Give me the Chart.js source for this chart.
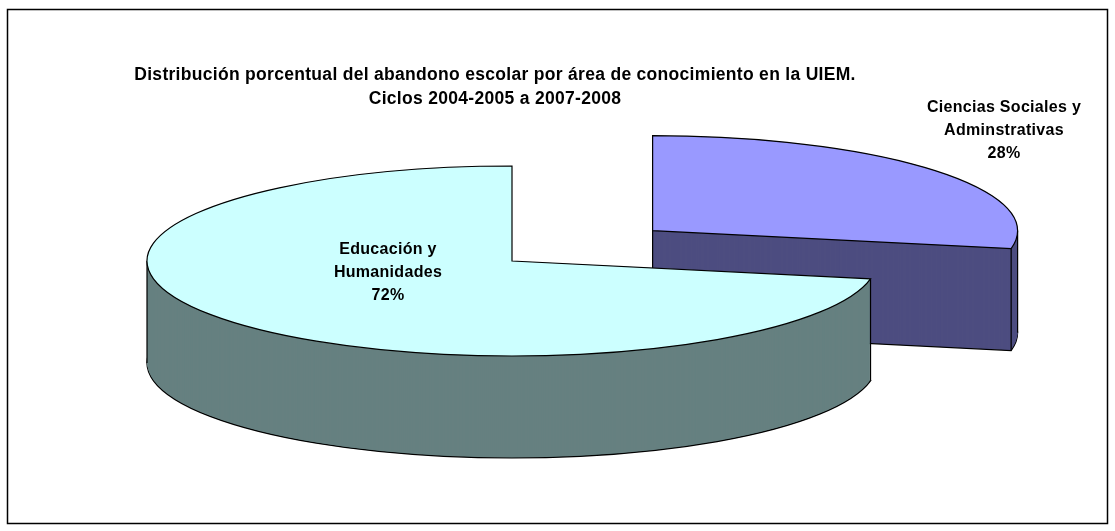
<!DOCTYPE html>
<html>
<head>
<meta charset="utf-8">
<script src="https://cdn.jsdelivr.net/npm/chart.js@4.4.1/dist/chart.umd.min.js"></script>
<style>
  html, body { margin: 0; padding: 0; background: #fff; }
  canvas { display: block; }
</style>
</head>
<body>
<canvas id="pie3d-canvas" width="1115" height="531"></canvas>
<script>
const titleLines = ['Distribución porcentual del abandono escolar por área de conocimiento en la UIEM.', 'Ciclos 2004-2005 a 2007-2008'];
const areas = ['Ciencias Sociales y Adminstrativas', 'Educación y Humanidades'];
const areaLabelLines = [['Ciencias Sociales y', 'Adminstrativas'], ['Educación y', 'Humanidades']];
const dropoutShare = [28, 72];
const topColors = ['#9999FF', '#CCFFFF'];
const sideColors = ['#4D4D80', '#668080'];

const DEPTH = 102;          // thickness of the pie in px
const EXPLODE = [0.5, 0];   // how far each slice is pulled out, part of radius
const TITLE_AT = [495, 75];
const LABEL_AT = [[1004, 131], [388, 273]];
const FONT = '"Liberation Sans", Arial, sans-serif';

function inArc(a, s, e) {
    while (a < s) a += 2 * Math.PI;
    while (a > s + 2 * Math.PI) a -= 2 * Math.PI;
    return a <= e;
}

const pie3d = {
    id: 'pie3d',
    beforeDraw(chart) {
        const ctx = chart.ctx;
        ctx.save();
        ctx.strokeStyle = '#000';
        ctx.lineWidth = 1.5;
        ctx.strokeRect(7.5, 9.5, 1100, 514);
        ctx.restore();
    },
    beforeDatasetsDraw(chart) {
        const ctx = chart.ctx;
        const area = chart.chartArea;
        const meta = chart.getDatasetMeta(0);

        // back slice first, front slice last
        meta.data.forEach((arc, i) => {
            const {x, y, startAngle, endAngle, outerRadius: r} =
                arc.getProps(['x', 'y', 'startAngle', 'endAngle', 'outerRadius'], true);
            const sx = (area.width / 2) / r;
            const sy = (area.height / 2) / r;
            const mid = (startAngle + endAngle) / 2;
            const ox = Math.cos(mid) * EXPLODE[i] * r;
            const oy = Math.sin(mid) * EXPLODE[i] * r;

            const project = (dy) => {
                ctx.translate(x, y + dy);
                ctx.scale(sx, sy);
                ctx.translate(-x + ox, -y + oy);
            };
            const tracePath = (dy) => {
                ctx.save();
                project(dy);
                ctx.beginPath();
                ctx.moveTo(x, y);
                ctx.arc(x, y, r, startAngle, endAngle);
                ctx.closePath();
                ctx.restore();
            };
            const pt = (a) => [x + (Math.cos(a) * r + ox) * sx, y + (Math.sin(a) * r + oy) * sy];

            ctx.save();
            ctx.lineWidth = 1.2;
            ctx.strokeStyle = '#000';
            ctx.fillStyle = sideColors[i];

            // side wall: bottom outline, then stacked layers
            tracePath(DEPTH);
            ctx.fill();
            ctx.stroke();
            for (let dy = DEPTH - 1; dy >= 0; dy--) {
                tracePath(dy);
                ctx.fill();
            }

            // vertical edges that can be seen
            const eps = 1e-6;
            const edges = [];
            if (Math.sin(startAngle) > eps || Math.cos(startAngle) < -eps) edges.push(pt(startAngle));
            if (Math.sin(endAngle) > eps || Math.cos(endAngle) > eps) edges.push(pt(endAngle));
            if (Math.cos(endAngle) > eps || Math.cos(startAngle) < -eps) edges.push([x + ox * sx, y + oy * sy]);
            [0, Math.PI].forEach(a => { if (inArc(a, startAngle, endAngle)) edges.push(pt(a)); });
            ctx.beginPath();
            edges.forEach(([px, py]) => {
                ctx.moveTo(px, py);
                ctx.lineTo(px, py + DEPTH);
            });
            ctx.stroke();

            // top face drawn by the arc element itself
            ctx.save();
            project(0);
            arc.draw(ctx);
            ctx.restore();
            tracePath(0);
            ctx.stroke();
            ctx.restore();
        });
        return false;
    },
    afterDraw(chart) {
        const ctx = chart.ctx;
        const total = dropoutShare.reduce((a, b) => a + b, 0);
        ctx.save();
        ctx.fillStyle = '#000';
        ctx.textAlign = 'center';
        ctx.textBaseline = 'middle';

        ctx.font = 'bold 17.5px ' + FONT;
        ctx.letterSpacing = '0.3px';
        titleLines.forEach((t, k) => ctx.fillText(t, TITLE_AT[0], TITLE_AT[1] + k * 24));

        ctx.font = 'bold 16px ' + FONT;
        ctx.letterSpacing = '0.3px';
        areaLabelLines.forEach((lines, i) => {
            const text = lines.concat([Math.round(dropoutShare[i] / total * 100) + '%']);
            const [lx, ly] = LABEL_AT[i];
            text.forEach((t, k) => ctx.fillText(t, lx, ly + (k - 1) * 23));
        });
        ctx.restore();
    }
};

new Chart(document.getElementById('pie3d-canvas'), {
    type: 'pie',
    data: {
        labels: areas,
        datasets: [{
            data: dropoutShare,
            backgroundColor: topColors,
            borderWidth: 0
        }]
    },
    options: {
        responsive: false,
        animation: false,
        events: [],
        // chart area = top face of the pie (its bounding box)
        layout: { padding: { top: 166, left: 147, right: 238, bottom: 175 } },
        plugins: {
            legend: { display: false },
            tooltip: { enabled: false },
            title: { display: false }
        }
    },
    plugins: [pie3d]
});
</script>
</body>
</html>
